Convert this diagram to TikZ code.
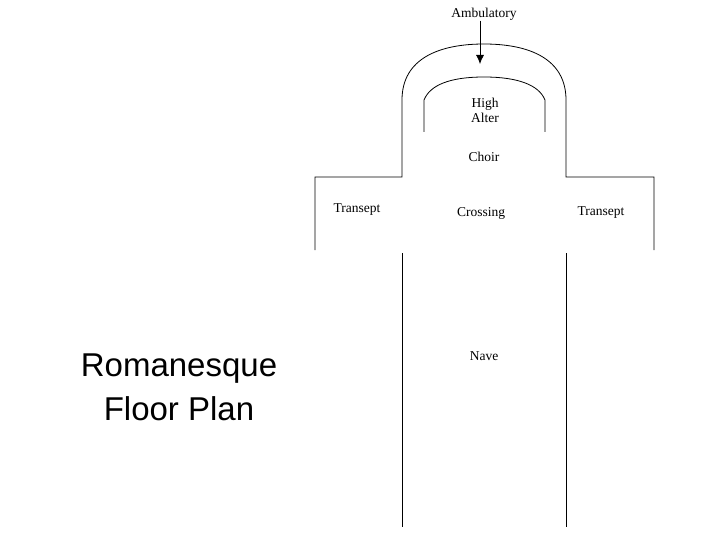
\documentclass[tikz,border=0pt]{standalone}
\usepackage{fontspec}
\usetikzlibrary{arrows.meta}
\setmainfont{Liberation Serif}
\newfontfamily\sansf{Liberation Sans}
\begin{document}
\begin{tikzpicture}[x=1pt,y=-1pt,line width=0.8pt,
  lbl/.style={font=\fontsize{13.5}{15}\selectfont,align=center,inner sep=0pt}]
\useasboundingbox[fill=white] (0,0) rectangle (720,540);
% outer apse + transepts
\draw (315,250) -- (315,177) -- (402,177) -- (402,100)
  .. controls (402,58) and (440,44) .. (484,44)
  .. controls (528,44) and (566,58) .. (566,100)
  -- (566,177) -- (654,177) -- (654,250);
% inner apse
\draw (424,132) -- (424,100) .. controls (430,85) and (450,77) .. (484,77)
  .. controls (518,77) and (539,85) .. (545,100) -- (545,132);
% nave
\draw (402,253) -- (402,527);
\draw (566,253) -- (566,527);
\node[lbl] (amb) at (484,14) {Ambulatory};
\coordinate (tip) at (480,64);
\draw[-{Latex[length=9pt,width=8pt]}] (amb.south -| tip) -- (tip);
\node[lbl] (alt) at (485,110) {High\\Alter};
\node[lbl] (choir) at (484,157) {Choir};
\node[lbl] (tl) at (357,210) {Transept};
\node[lbl] (cr) at (481,213) {Crossing};
\node[lbl] (tr) at (601,213) {Transept};
\node[lbl] (nave) at (484,356) {Nave};
\node[align=center,font=\sansf\fontsize{33}{44}\selectfont] (title) at (179,387) {Romanesque\\Floor Plan};
\end{tikzpicture}
\end{document}
